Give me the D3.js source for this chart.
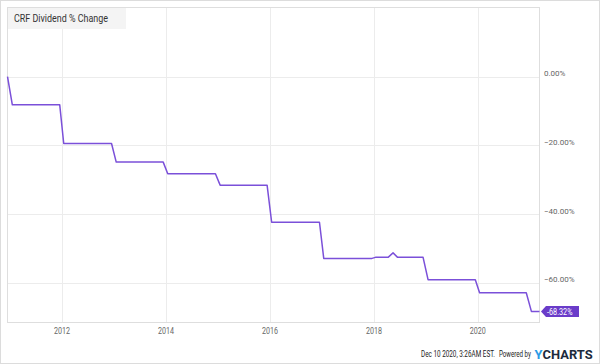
<!DOCTYPE html>
<html><head><meta charset="utf-8">
<script src="https://cdn.jsdelivr.net/npm/d3@7"></script>
<style>html,body{margin:0;padding:0;background:#fff;}svg{display:block;font-family:Roboto,"Noto Sans",sans-serif;}</style>
</head><body>
<svg id="c" width="600" height="364"></svg>
<script>
const title = "CRF Dividend % Change";
const dates = ["2010-12-14","2011-01-17","2011-12-16","2012-01-13","2012-12-14","2013-01-16","2013-12-12","2014-01-13","2014-12-14","2015-01-16","2015-12-12","2016-01-13","2016-12-14","2017-01-13","2017-12-18","2018-01-11","2018-04-10","2018-05-15","2018-06-16","2018-12-12","2019-01-16","2019-12-14","2020-01-13","2020-12-06","2021-01-11","2021-03-09"];
const values = [0,-8.24,-8.24,-19.5,-19.5,-24.9,-24.9,-28.3,-28.3,-31.6,-31.6,-42.4,-42.4,-52.9,-52.9,-52.6,-52.6,-51.3,-52.6,-52.6,-59.1,-59.1,-62.9,-62.9,-68.32,-68.32];
const yTicks = [0,-20,-40,-60];
const xTicks = ["2012","2014","2016","2018","2020"];
const lastLabel = "-68.32%";
const stamp = "Dec 10 2020, 3:26AM EST.";

const svg = d3.select("#c");
const W = 600, H = 364;
const L = 7.5, R = 539.5, T = 7.5, B = 322.5;
const parse = d3.timeParse("%Y-%m-%d");
const data = dates.map((d,i)=>({d:parse(d), v:values[i]}));

const x = d3.scaleTime().domain([parse("2010-12-14"), parse("2021-03-09")]).range([L, R]);
const y = d3.scaleLinear().domain([-71.55, 20.07]).range([B, T]);

// helper: text squeezed horizontally to a target width
function squeezed(parent, tx, ty, width, size, fill, str, weight) {
  const gg = parent.append("g");
  const t = gg.append("text").attr("x",0).attr("y",0).attr("font-size",size).attr("fill",fill);
  if (weight) t.attr("font-weight",weight);
  if (typeof str === "string") t.text(str); else str(t);
  const nat = t.node().getComputedTextLength();
  const s = nat > 0 ? width / nat : 1;
  gg.attr("transform",`translate(${tx},${ty}) scale(${s},1)`);
  return gg;
}

// outer frame
svg.append("rect").attr("x",0.5).attr("y",0.5).attr("width",W-1).attr("height",H-1)
  .attr("fill","#fff").attr("stroke","#dcdcdc");

// grid
const g = svg.append("g");
g.selectAll(".hg").data(yTicks).join("line")
  .attr("x1",L).attr("x2",R)
  .attr("y1",d=>Math.round(y(d))+0.5).attr("y2",d=>Math.round(y(d))+0.5)
  .attr("stroke","#ececec");
g.selectAll(".vg").data(xTicks).join("line")
  .attr("x1",d=>Math.round(x(parse(d+"-01-01")))+0.5).attr("x2",d=>Math.round(x(parse(d+"-01-01")))+0.5)
  .attr("y1",T).attr("y2",B)
  .attr("stroke","#ececec");

// plot border
svg.append("rect").attr("x",L).attr("y",T).attr("width",R-L).attr("height",B-T)
  .attr("fill","none").attr("stroke","#dedede");

// title box
svg.append("rect").attr("x",8).attr("y",8).attr("width",118).attr("height",21).attr("fill","#f4f4f4");
svg.append("text").attr("x",14).attr("y",22).attr("font-size",10.5).attr("fill","#333")
  .attr("textLength",94).attr("lengthAdjust","spacingAndGlyphs").text(title);

// y labels
svg.selectAll(".yl").data(yTicks).join("text")
  .attr("x",544).attr("y",d=>y(d)-0.5).attr("font-size",8).attr("fill","#666")
  .text(d=>d3.format(".2f")(d)+"%");

// x labels
svg.selectAll(".xl").data(xTicks).join("text")
  .attr("x",d=>x(parse(d+"-01-01"))).attr("y",334).attr("text-anchor","middle")
  .attr("font-size",8.5).attr("fill","#666")
  .attr("textLength",16).attr("lengthAdjust","spacingAndGlyphs")
  .text(d=>d);

// line
const line = d3.line().x(d=>x(d.d)).y(d=>y(d.v));
svg.append("path").datum(data).attr("d",line).attr("fill","none")
  .attr("stroke","#7b50d9").attr("stroke-width",1.5).attr("stroke-linejoin","round");

// last value label
const last = data[data.length-1];
const ly = y(last.v), lx = x(last.d) + 1.5;
svg.append("path")
  .attr("d",`M${lx},${ly} L${lx+5},${ly-5.5} L${lx+38},${ly-5.5} L${lx+38},${ly+5.5} L${lx+5},${ly+5.5} Z`)
  .attr("fill","#6a3cc9");
svg.append("text").attr("x",lx+6).attr("y",ly+3.2).attr("font-size",8.5).attr("fill","#fff")
  .attr("textLength",25.5).attr("lengthAdjust","spacingAndGlyphs").text(lastLabel);

// footer
squeezed(svg, 421, 357, 74, 8.5, "#222", stamp);
squeezed(svg, 499, 357, 32, 8.5, "#222", "Powered by");
squeezed(svg, 534.5, 358.5, 58, 12, "#1c2a3c", t => {
  t.append("tspan").attr("fill","#2b9be6").text("Y");
  t.append("tspan").attr("fill","#1c2a3c").text("CHARTS");
}, "bold");
</script>
</body></html>
